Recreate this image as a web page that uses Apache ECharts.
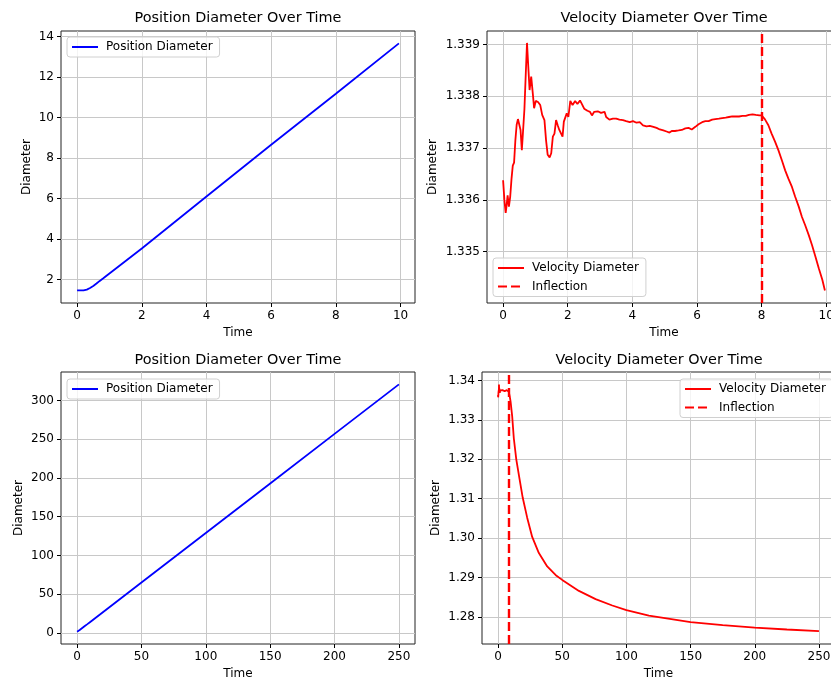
<!DOCTYPE html>
<html><head><meta charset="utf-8">
<script src="https://cdn.jsdelivr.net/npm/echarts@6/dist/echarts.min.js"></script>
<style>html,body{margin:0;padding:0;background:#fff}#c{width:831px;height:680px}</style>
</head><body><div id="c"></div>
<script>
// ---------- data ----------
const posTime  = [0, 0.1, 0.2, 0.3, 0.4, 0.5, 0.6, 0.7, 0.8, 1.0, 2, 4, 6, 8, 9.95, 50, 100, 150, 200, 250];
const posValue = [1.46, 1.46, 1.46, 1.5, 1.58, 1.68, 1.8, 1.93, 2.05, 2.3, 3.53, 6.1, 8.65, 11.17, 13.66, 65, 129, 193, 257, 321];

const velTime = [0.00,0.04,0.08,0.11,0.14,0.18,0.22,0.26,0.30,0.34,0.38,0.42,0.46,0.50,0.54,0.58,0.62,0.66,0.70,0.74,
  0.78,0.82,0.87,0.92,0.96,1.01,1.08,1.15,1.21,1.28,1.33,1.38,1.44,1.49,1.54,1.59,1.64,1.69,1.74,1.79,
  1.84,1.88,1.93,1.97,2.02,2.08,2.15,2.23,2.30,2.38,2.44,2.51,2.61,2.69,2.75,2.82,2.93,3.03,3.08,3.14,
  3.19,3.29,3.40,3.50,3.60,3.71,3.81,3.92,4.02,4.13,4.23,4.33,4.44,4.54,4.65,4.75,4.85,4.96,5.06,5.15,
  5.22,5.32,5.43,5.53,5.64,5.74,5.84,5.95,6.05,6.16,6.26,6.36,6.47,6.57,6.68,6.78,6.89,6.99,7.09,7.20,
  7.30,7.41,7.51,7.61,7.72,7.82,7.93,8.00,8.10,8.21,8.31,8.42,8.52,8.63,8.73,8.83,8.94,9.04,9.15,9.25,
  9.35,9.46,9.56,9.67,9.77,9.88,9.96,
  11.0,12.3,14.2,16.8,19.2,22.7,26.6,31.8,38.3,45,50,63,76,89,100,117.5,150,175,200,225,250];
const velValue = [1.33638,1.33600,1.33575,1.33590,1.33609,1.33587,1.33606,1.33640,1.33666,1.33672,1.33715,1.33745,1.33756,1.33753,1.33735,1.33696,1.33735,1.33775,1.33840,1.33903,
  1.33857,1.33812,1.33838,1.33805,1.33777,1.33791,1.33789,1.33783,1.33764,1.33754,1.33715,1.33687,1.33682,1.33690,1.33722,1.33728,1.33754,1.33744,1.33735,1.33738,
  1.33722,1.33751,1.33748,1.33767,1.33760,1.33791,1.33783,1.33791,1.33785,1.33792,1.33785,1.33776,1.33772,1.33770,1.33763,1.33770,1.33771,1.33768,1.33766,1.33770,
  1.33760,1.33755,1.33757,1.33757,1.33755,1.33754,1.33752,1.33750,1.33752,1.33749,1.33750,1.33744,1.33742,1.33743,1.33741,1.33739,1.33736,1.33734,1.33732,1.33730,
  1.33733,1.33733,1.33734,1.33735,1.33738,1.33739,1.33736,1.33741,1.33746,1.33750,1.33752,1.33752,1.33755,1.33756,1.33757,1.33758,1.33759,1.33760,1.33761,1.33761,
  1.33761,1.33762,1.33762,1.33764,1.33765,1.33764,1.33763,1.33763,1.33756,1.33744,1.33728,1.33712,1.33696,1.33676,1.33657,1.33641,1.33625,1.33606,1.33587,1.33567,
  1.33551,1.33532,1.33513,1.33490,1.33468,1.33446,1.33425,
  1.3310,1.3253,1.3200,1.3149,1.3103,1.3052,1.3003,1.2962,1.2928,1.2906,1.2894,1.2866,1.2845,1.2829,1.2817,1.2803,1.2787,1.2779,1.2773,1.2768,1.2764];

const inflectionTime = 8;
const shortWindowEnd = 10;

const ticksTopX = [0, 2, 4, 6, 8, 10];
const ticksTopLeftY = [2, 4, 6, 8, 10, 12, 14];
const ticksTopRightY = [1.335, 1.336, 1.337, 1.338, 1.339];
const ticksBottomX = [0, 50, 100, 150, 200, 250];
const ticksBottomLeftY = [0, 50, 100, 150, 200, 250, 300];
const ticksBottomRightY = [1.28, 1.29, 1.30, 1.31, 1.32, 1.33, 1.34];

// ---------- build ----------
const pairs = (xs, ys) => xs.map((x, i) => [x, ys[i]]);
const posAll = pairs(posTime, posValue);
const velAll = pairs(velTime, velValue);
const posShort = posAll.filter(p => p[0] <= shortWindowEnd);
const velShort = velAll.filter(p => p[0] <= shortWindowEnd);

const FONT = 'DejaVu Sans';
const txt = {color: '#000', fontFamily: FONT, fontSize: 12};

function axis(gridIndex, min, max, ticks, decimals, name, nameGap) {
  const step = ticks[1] - ticks[0];
  return {
    type: 'value', gridIndex, min, max,
    minInterval: step, maxInterval: step, splitNumber: ticks.length,
    name, nameLocation: 'middle', nameGap,
    nameTextStyle: Object.assign({}, txt),
    axisLine: {show: false, onZero: false},
    axisTick: {show: true, inside: false, length: 4, lineStyle: {color: '#000', width: 1}, customValues: ticks},
    axisLabel: Object.assign({
      margin: 7, customValues: ticks, hideOverlap: false,
      formatter: v => {
        const k = v / step;
        if (Math.abs(k - Math.round(k)) > 1e-6) return '';
        return Number(v).toFixed(decimals);
      }
    }, txt),
    splitLine: {show: true, lineStyle: {color: '#c8c8c8', width: 1}},
    axisPointer: {show: false}
  };
}

const grids = [
  {left: 61, top: 31, width: 354, height: 272},
  {left: 487, top: 31, width: 354, height: 272},
  {left: 61, top: 372, width: 354, height: 272},
  {left: 482, top: 372, width: 353, height: 272}
].map(g => Object.assign(g, {show: true, borderColor: '#222', borderWidth: 1, backgroundColor: 'transparent',
  containLabel: false, outerBoundsMode: 'none'}));

const xAxes = [
  axis(0, -0.4975, 10.4475, ticksTopX, 0, 'Time', 24),
  axis(1, -0.498, 10.458, ticksTopX, 0, 'Time', 24),
  axis(2, -12.5, 262.5, ticksBottomX, 0, 'Time', 24),
  axis(3, -12.5, 262.5, ticksBottomX, 0, 'Time', 24)
];
const yAxes = [
  axis(0, 0.84, 14.27, ticksTopLeftY, 0, 'Diameter', 28),
  axis(1, 1.33401, 1.33926, ticksTopRightY, 3, 'Diameter', 48),
  axis(2, -14.5, 337, ticksBottomLeftY, 0, 'Diameter', 36),
  axis(3, 1.27312, 1.34218, ticksBottomRightY, 2, 'Diameter', 40)
];

const lineW = 1.8;
function lineSeries(name, idx, data, color) {
  return {name, type: 'line', xAxisIndex: idx, yAxisIndex: idx, data, showSymbol: false, symbol: 'none',
    lineStyle: {color, width: lineW}, itemStyle: {color}, z: 3, silent: true};
}
function inflectionSeries(idx) {
  return {name: 'Inflection', type: 'line', xAxisIndex: idx, yAxisIndex: idx, data: [], symbol: 'none',
    lineStyle: {color: '#ff0000', width: 2.4, type: [9, 4]}, itemStyle: {color: '#ff0000'}, z: 4, silent: true,
    markLine: {silent: true, symbol: ['none', 'none'], label: {show: false},
      lineStyle: {color: '#ff0000', width: 2.4, type: [9, 4]},
      data: [{xAxis: inflectionTime}]}};
}

const titles = [
  {text: 'Position Diameter Over Time', left: 238, top: 11},
  {text: 'Velocity Diameter Over Time', left: 664, top: 11},
  {text: 'Position Diameter Over Time', left: 238, top: 353},
  {text: 'Velocity Diameter Over Time', left: 659, top: 353}
].map(t => Object.assign(t, {textAlign: 'center', padding: 0,
  textStyle: {color: '#000', fontFamily: FONT, fontSize: 14.4, fontWeight: 'normal'}}));

function legend(left, top, data) {
  return {left, top, data, orient: 'vertical', itemWidth: 26, itemHeight: 12, itemGap: 6.5,
    padding: [4, 7, 4, 4], backgroundColor: 'rgba(255,255,255,0.8)', borderColor: '#d0d0d0', borderWidth: 1,
    borderRadius: 3, selectedMode: false, inactiveColor: '#000',
    itemStyle: {opacity: 0},
    textStyle: {color: '#000', fontFamily: FONT, fontSize: 12, padding: [0, 0, 0, 3]}};
}

const option = {
  animation: false,
  backgroundColor: '#fff',
  title: titles,
  grid: grids,
  xAxis: xAxes,
  yAxis: yAxes,
  legend: [
    legend(67, 37, ['Position Diameter']),
    legend(493, 258, ['Velocity Diameter', 'Inflection']),
    legend(67, 379, ['Position Diameter']),
    legend(680, 379, ['Velocity Diameter', 'Inflection'])
  ],
  series: [
    lineSeries('Position Diameter', 0, posShort, '#0000ff'),
    lineSeries('Velocity Diameter', 1, velShort, '#ff0000'),
    inflectionSeries(1),
    lineSeries('Position Diameter', 2, posAll, '#0000ff'),
    lineSeries('Velocity Diameter', 3, velAll, '#ff0000'),
    inflectionSeries(3)
  ]
};
const chart = echarts.init(document.getElementById('c'), null, {renderer: 'canvas'});
chart.setOption(option);
</script>
</body></html>
